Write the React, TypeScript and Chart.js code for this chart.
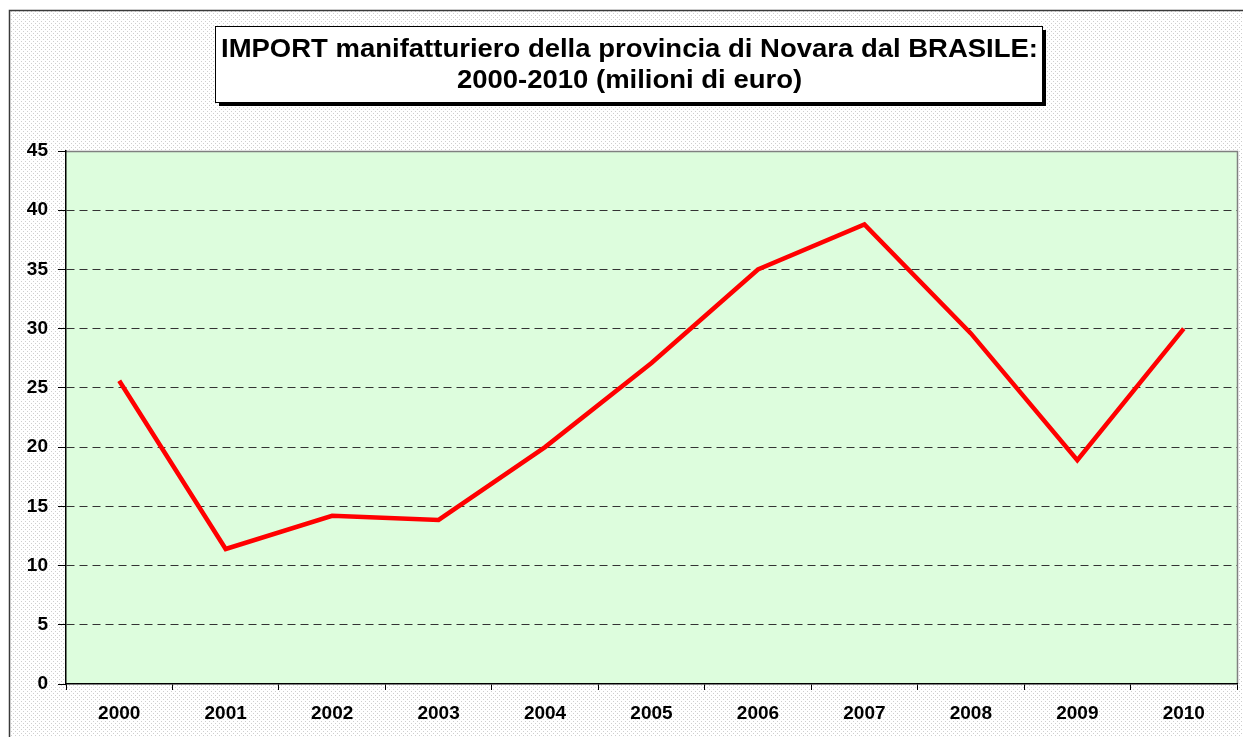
import React, { useEffect, useRef } from "react";
import { Chart, registerables } from "chart.js";

Chart.register(...registerables);

const years = ["2000", "2001", "2002", "2003", "2004", "2005", "2006", "2007", "2008", "2009", "2010"];
const importValues = [25.6, 11.4, 14.2, 13.85, 20.0, 27.1, 35.0, 38.8, 29.6, 18.9, 30.0];
const titleLines = ["IMPORT manifatturiero della provincia di Novara dal BRASILE:", "2000-2010 (milioni di euro)"];
const yMin = 0;
const yMax = 45;
const yStep = 5;

const FONT = '"Liberation Sans", Arial, sans-serif';

const backgroundPlugin = {
  id: "bgPlugin",
  beforeDraw(chart: any) {
    const { ctx, width, height, chartArea } = chart;
    ctx.save();
    ctx.fillStyle = "#ffffff";
    ctx.fillRect(0, 0, width, height);
    // dotted pattern
    const pc = document.createElement("canvas");
    pc.width = 4;
    pc.height = 4;
    const pctx = pc.getContext("2d")!;
    pctx.fillStyle = "#ffffff";
    pctx.fillRect(0, 0, 4, 4);
    pctx.fillStyle = "#cfcfcf";
    pctx.fillRect(1, 1, 1, 1);
    pctx.fillRect(3, 3, 1, 1);
    const pattern = ctx.createPattern(pc, "repeat");
    ctx.fillStyle = pattern;
    ctx.fillRect(10, 11, width - 10, height - 11);
    // outer frame
    ctx.strokeStyle = "#3a3a3a";
    ctx.lineWidth = 1.5;
    ctx.strokeRect(9.5, 10.5, width + 10, height + 10);
    // plot area
    ctx.fillStyle = "#ddfddd";
    ctx.fillRect(chartArea.left, chartArea.top, chartArea.right - chartArea.left, chartArea.bottom - chartArea.top);
    ctx.strokeStyle = "#808080";
    ctx.lineWidth = 1.5;
    ctx.beginPath();
    ctx.moveTo(chartArea.left, chartArea.top + 0.5);
    ctx.lineTo(chartArea.right + 0.5, chartArea.top + 0.5);
    ctx.lineTo(chartArea.right + 0.5, chartArea.bottom);
    ctx.stroke();
    // title box
    const bx = 215, by = 26, bw = 827, bh = 76;
    ctx.fillStyle = "#000000";
    ctx.fillRect(bx + 4, by + 4, bw, bh);
    ctx.fillStyle = "#ffffff";
    ctx.fillRect(bx, by, bw, bh);
    ctx.strokeStyle = "#000000";
    ctx.lineWidth = 1;
    ctx.strokeRect(bx + 0.5, by + 0.5, bw, bh);
    ctx.fillStyle = "#000000";
    ctx.font = `bold 25px ${FONT}`;
    ctx.textAlign = "center";
    ctx.textBaseline = "alphabetic";
    const w1 = ctx.measureText(titleLines[0]).width;
    const sx = 817 / w1;
    const cx = bx + bw / 2 + 1;
    ctx.translate(cx, 0);
    ctx.scale(sx, 1);
    ctx.fillText(titleLines[0], 0, 57);
    ctx.fillText(titleLines[1], 0, 88);
    ctx.restore();
  },
};

export default function App() {
  const canvasRef = useRef<HTMLCanvasElement | null>(null);

  useEffect(() => {
    const canvas = canvasRef.current;
    if (!canvas) return;
    const chart = new Chart(canvas, {
      type: "line",
      data: {
        labels: years,
        datasets: [
          {
            data: importValues,
            borderColor: "#ff0000",
            backgroundColor: "#ff0000",
            borderWidth: 4.5,
            pointRadius: 0,
            tension: 0,
            fill: false,
          },
        ],
      },
      options: {
        responsive: false,
        animation: false,
        layout: { padding: { left: 0, top: 151, right: 6, bottom: 0 } },
        plugins: {
          legend: { display: false },
          title: { display: false },
          tooltip: { enabled: false },
        },
        scales: {
          x: {
            type: "category",
            offset: true,
            afterFit(scale: any) {
              scale.height = 53;
            },
            grid: {
              offset: true,
              drawOnChartArea: false,
              drawTicks: true,
              tickLength: 6,
              tickColor: "#000000",
              tickWidth: 1,
            },
            border: { display: true, color: "#000000", width: 1.5 },
            ticks: {
              color: "#000000",
              font: { family: FONT, size: 19, weight: "bold" },
              padding: 12,
              maxRotation: 0,
              autoSkip: false,
            },
          },
          y: {
            min: yMin,
            max: yMax,
            afterFit(scale: any) {
              scale.width = 66;
            },
            grid: {
              color: (c: any) =>
                c.tick && (c.tick.value === yMin || c.tick.value === yMax) ? "rgba(0,0,0,0)" : "#333333",
              lineWidth: 1,
              drawTicks: true,
              tickLength: 8,
              tickColor: "#000000",
              tickWidth: 1,
              tickBorderDash: [],
            },
            border: { display: true, color: "#000000", width: 1.5, dash: [8, 5] },
            ticks: {
              stepSize: yStep,
              color: "#000000",
              font: { family: FONT, size: 19, weight: "bold" },
              padding: 10,
            },
          },
        },
      },
      plugins: [backgroundPlugin],
    });
    return () => chart.destroy();
  }, []);

  return (
    <div style={{ position: "fixed", left: 0, top: 0, width: 1243, height: 737 }}>
      <canvas ref={canvasRef} width={1243} height={737} style={{ display: "block" }} />
    </div>
  );
}
